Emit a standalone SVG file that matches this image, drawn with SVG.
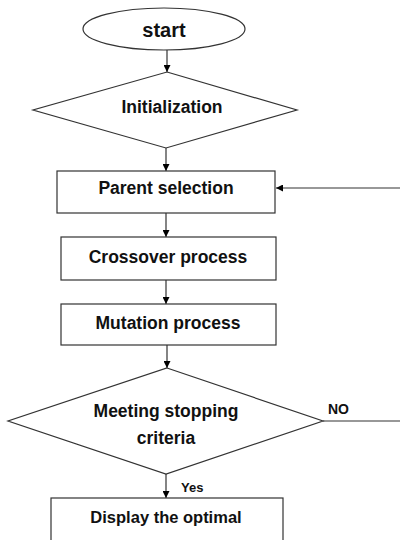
<svg xmlns="http://www.w3.org/2000/svg" width="400" height="540" viewBox="0 0 400 540">
<defs>
<marker id="arr" viewBox="0 0 10 10" refX="10" refY="5" markerWidth="7" markerHeight="7" orient="auto" markerUnits="userSpaceOnUse">
<path d="M0,0 L10,5 L0,10 z" fill="#000"/>
</marker>
<style>
.shape{fill:#fff;stroke:#333;stroke-width:1.2}
.lbl{font-family:"Liberation Sans",Arial,sans-serif;font-weight:bold;font-size:17.5px;fill:#111;text-anchor:middle}
.sm{font-family:"Liberation Sans",Arial,sans-serif;font-weight:bold;font-size:14px;fill:#111}
.con{stroke:#333;stroke-width:1.2;fill:none}
</style>
</defs>
<rect width="400" height="540" fill="#fff"/>
<g id="connectors">
<line class="con" x1="167" y1="50" x2="167" y2="72" marker-end="url(#arr)"/>
<line class="con" x1="166" y1="148" x2="166" y2="171" marker-end="url(#arr)"/>
<line class="con" x1="400" y1="188" x2="276" y2="188" marker-end="url(#arr)"/>
<line class="con" x1="166" y1="213" x2="166" y2="237" marker-end="url(#arr)"/>
<line class="con" x1="166" y1="280" x2="166" y2="304" marker-end="url(#arr)"/>
<line class="con" x1="167" y1="345" x2="167" y2="368" marker-end="url(#arr)"/>
<line class="con" x1="323" y1="421" x2="400" y2="421"/>
<line class="con" x1="166" y1="474" x2="166" y2="498" marker-end="url(#arr)"/>
<text class="sm" x="328" y="414">NO</text>
<text class="sm" x="181" y="492" style="font-size:13px">Yes</text>
</g>
<g id="start">
<ellipse class="shape" cx="164" cy="29" rx="81" ry="21"/>
<text class="lbl" x="164" y="37" style="font-size:20px">start</text>
</g>
<g id="init">
<polygon class="shape" points="167,72 297,110 166,148 33,110"/>
<text class="lbl" x="172" y="113">Initialization</text>
</g>
<g id="parent">
<rect class="shape" x="57" y="171" width="218" height="42"/>
<text class="lbl" x="166" y="194">Parent selection</text>
</g>
<g id="crossover">
<rect class="shape" x="61" y="237" width="215" height="43"/>
<text class="lbl" x="168" y="263">Crossover process</text>
</g>
<g id="mutation">
<rect class="shape" x="61" y="304" width="215" height="41"/>
<text class="lbl" x="168" y="329">Mutation process</text>
</g>
<g id="decision">
<polygon class="shape" points="167,368 323,421 166,474 8,421"/>
<text class="lbl" x="166" y="417">Meeting stopping</text>
<text class="lbl" x="166" y="444">criteria</text>
</g>
<g id="display">
<rect class="shape" x="51" y="498" width="232" height="50"/>
<text class="lbl" x="166" y="523" style="font-size:16.5px">Display the optimal</text>
</g>
</svg>
